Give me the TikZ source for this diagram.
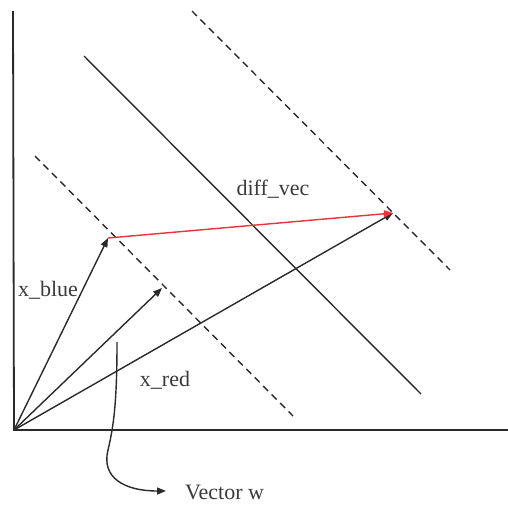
\documentclass[tikz,border=0pt]{standalone}
\usepackage{fontspec}
\setmainfont{Liberation Serif}
\usetikzlibrary{arrows.meta}
\definecolor{ink}{HTML}{2A2A2A}
\definecolor{txt}{HTML}{3A3A3A}
\definecolor{redvec}{HTML}{F0303A}
\begin{document}
\begin{tikzpicture}[x=1pt,y=-1pt,
  axisline/.style={draw=ink,line width=1.8pt},
  vecline/.style={draw=ink,line width=1.4pt,-{Triangle[length=9pt,width=7pt]}},
  plane/.style={draw=ink,line width=1.4pt},
  margin/.style={draw=ink,line width=1.4pt,dash pattern=on 7pt off 5pt},
  lbl/.style={font=\fontsize{22}{25}\selectfont,text=txt,inner sep=0pt}]
\useasboundingbox (0,0) rectangle (508,504);
% coordinates
\coordinate (top) at (13,11);
\coordinate (O) at (14,430);
\coordinate (xend) at (508,430);
\coordinate (B) at (108,238);
\coordinate (R) at (162,288);
\coordinate (L) at (393,213);
\coordinate (d1a) at (35,156);
\coordinate (d1b) at (293,416);
\coordinate (sa) at (84,56);
\coordinate (sb) at (421,394);
\coordinate (d2a) at (192,11);
\coordinate (d2b) at (450,270);
\coordinate (wtop) at (117,342);
\coordinate (wend) at (166,491);
% axes
\draw[axisline] (top) -- (O) -- (xend);
% margins and plane
\draw[margin] (d1a) -- (d1b);
\draw[plane] (sa) -- (sb);
\draw[margin] (d2a) -- (d2b);
% vectors
\draw[vecline] (O) -- (B);
\draw[vecline] (O) -- (R);
\draw[vecline] (O) -- (L);
\draw[vecline,draw=redvec,fill=redvec] (B) -- (L);
% vector w pointer
\draw[vecline] (wtop) .. controls (117,400) and (114,425) .. (108,450)
  .. controls (101,478) and (125,491) .. (wend);
% labels
\node[lbl] (lblue) at (48,290) {x\_blue};
\node[lbl] (lred) at (165,380) {x\_red};
\node[lbl] (ldiff) at (273,189) {diff\_vec};
\node[lbl,anchor=west] (lw) at (185,492) {Vector w};
\end{tikzpicture}
\end{document}
